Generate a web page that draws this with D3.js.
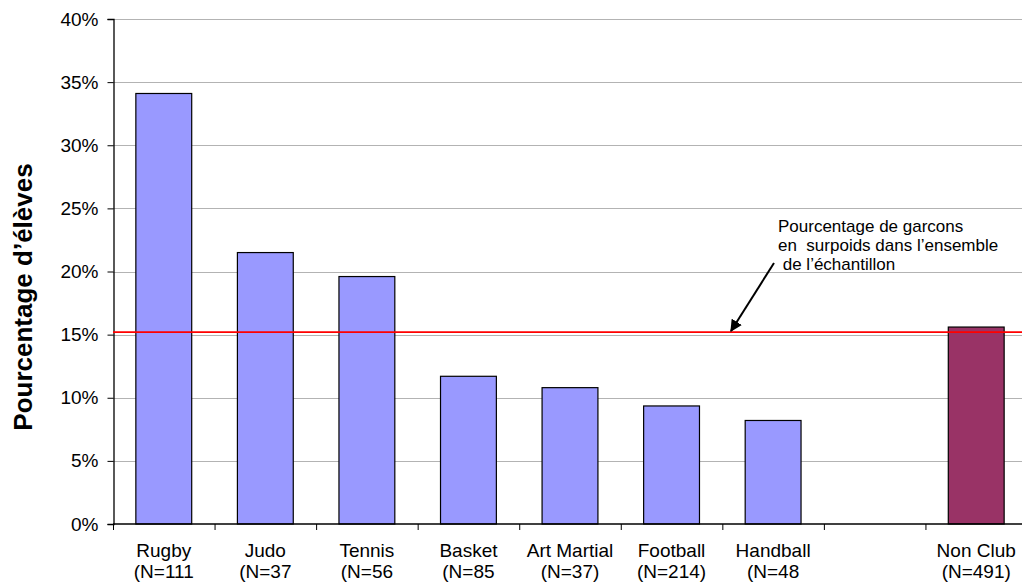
<!DOCTYPE html>
<html><head><meta charset="utf-8">
<script src="https://cdn.jsdelivr.net/npm/d3@7"></script>
<style>body{margin:0;background:#fff}svg{display:block}text{font-family:"Liberation Sans",Arial,sans-serif}</style>
</head><body><svg id="c" width="1022" height="585"></svg>
<script>
const categories = ["Rugby","Judo","Tennis","Basket","Art Martial","Football","Handball","","Non Club"];
const nLabels = ["(N=111","(N=37","(N=56","(N=85","(N=37)","(N=214)","(N=48","","(N=491)"];
const values = [34.1,21.5,19.6,11.7,10.8,9.35,8.2,null,15.6];
const barColors = ["#9999FF","#9999FF","#9999FF","#9999FF","#9999FF","#9999FF","#9999FF",null,"#993366"];
const yTicks = [0,5,10,15,20,25,30,35,40];
const refLine = 15.2;
const annotation = ["Pourcentage de garcons","en  surpoids dans l\u2019ensemble"," de l\u2019échantillon"];

const svg = d3.select("#c");
const x = d3.scaleBand().domain(d3.range(categories.length)).range([113,1027]).paddingInner(0.45).paddingOuter(0.225);
const y = d3.scaleLinear().domain([0,40]).range([524,19]);

// gridlines
svg.append("g").selectAll("line").data(yTicks.filter(d=>d>0)).join("line")
  .attr("x1",113).attr("x2",1022).attr("y1",d=>Math.round(y(d))+0.5).attr("y2",d=>Math.round(y(d))+0.5)
  .attr("stroke","#b3b3b3").attr("stroke-width",1);

// y axis
const ya = svg.append("g").attr("transform","translate(113.5,0)")
  .call(d3.axisLeft(y).tickValues(yTicks).tickFormat(d=>d+"%").tickSize(6).tickPadding(9));
ya.select(".domain").attr("stroke","#000").attr("stroke-width",1.3);
ya.selectAll("line").attr("stroke","#000");
ya.selectAll("text").attr("font-size",19).attr("fill","#000").style("font-family","Liberation Sans, Arial, sans-serif");

// bars
svg.append("g").selectAll("rect").data(values.map((v,i)=>({v,i})).filter(d=>d.v!=null)).join("rect")
  .attr("x",d=>x(d.i)).attr("width",x.bandwidth())
  .attr("y",d=>y(d.v)).attr("height",d=>y(0)-y(d.v))
  .attr("fill",d=>barColors[d.i]).attr("stroke","#000").attr("stroke-width",1.2);

// x axis line and ticks
const step = x.step();
svg.append("line").attr("x1",113).attr("x2",1022).attr("y1",y(0)).attr("y2",y(0)).attr("stroke","#000").attr("stroke-width",1.3);
svg.append("g").selectAll("line").data(d3.range(categories.length+1)).join("line")
  .attr("x1",i=>113.5+i*step).attr("x2",i=>113.5+i*step).attr("y1",y(0)).attr("y2",y(0)+6)
  .attr("stroke","#000");

// x labels
const lg = svg.append("g").attr("font-size",19).attr("fill","#000").attr("text-anchor","middle");
lg.selectAll("text.c").data(categories).join("text").attr("class","c")
  .attr("x",(d,i)=>x(i)+x.bandwidth()/2).attr("y",557).text(d=>d);
lg.selectAll("text.n").data(nLabels).join("text").attr("class","n")
  .attr("x",(d,i)=>x(i)+x.bandwidth()/2).attr("y",578).text(d=>d);

// reference line
svg.append("line").attr("x1",113).attr("x2",1022).attr("y1",y(refLine)).attr("y2",y(refLine))
  .attr("stroke","#FF0000").attr("stroke-width",1.6);

// annotation
const ag = svg.append("g").attr("font-size",17).attr("fill","#000");
annotation.forEach((t,i)=>ag.append("text").attr("x",778).attr("y",232+i*19).attr("xml:space","preserve").text(t));
svg.append("defs").append("marker").attr("id","ah").attr("viewBox","0 0 10 10").attr("refX",9).attr("refY",5)
  .attr("markerWidth",6).attr("markerHeight",6).attr("orient","auto")
  .append("path").attr("d","M0,0L10,5L0,10z").attr("fill","#000");
svg.append("line").attr("x1",774).attr("y1",263).attr("x2",731).attr("y2",331)
  .attr("stroke","#000").attr("stroke-width",2).attr("marker-end","url(#ah)");

// y title
svg.append("text").attr("transform","translate(32,297) rotate(-90)").attr("text-anchor","middle")
  .attr("font-size",26).attr("font-weight","bold").attr("fill","#000").text("Pourcentage d\u2019élèves");
</script></body></html>
